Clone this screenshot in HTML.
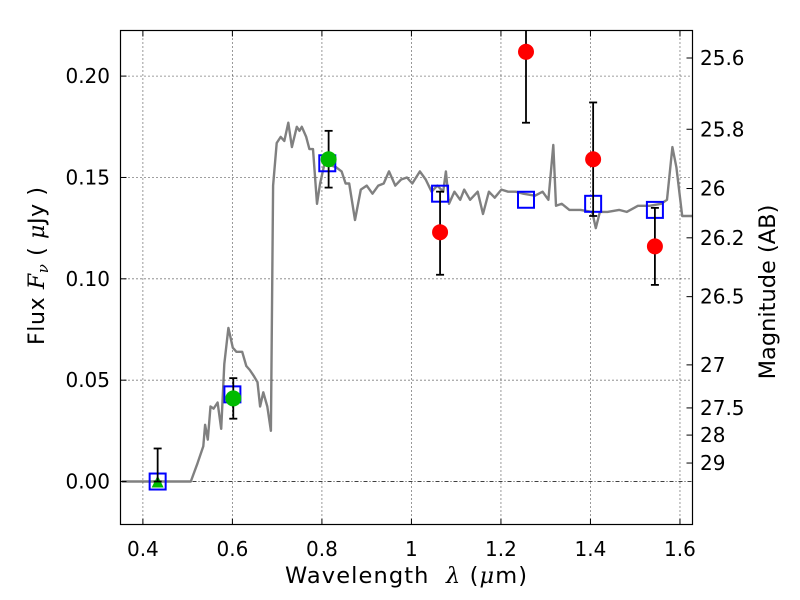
<!DOCTYPE html>
<html><head><meta charset="utf-8"><title>SED chart</title>
<style>html,body{margin:0;padding:0;background:#fff}svg{display:block;font-family:"DejaVu Sans","Liberation Sans",sans-serif}text{white-space:pre}.m{font-family:"DejaVu Serif","Liberation Serif",serif;font-style:italic}</style>
</head><body>
<svg id="chart" width="800" height="600" viewBox="0 0 800 600" xmlns="http://www.w3.org/2000/svg" xml:space="preserve">
<rect width="800" height="600" fill="#fff"/>
<g id="grid"></g>
<g id="plot"></g>
<g id="axes"></g>
<text x="285" y="583" font-size="22.5" textLength="242" lengthAdjust="spacing">Wavelength  <tspan class="m">λ</tspan> (<tspan class="m">μ</tspan>m)</text>
<text transform="translate(44,345) rotate(-90)" font-size="22" textLength="158" lengthAdjust="spacing">Flux <tspan class="m">F</tspan><tspan class="m" font-size="15" dy="4">ν</tspan><tspan dy="-4"> ( </tspan><tspan class="m">μ</tspan>Jy )</text>
<text transform="translate(775,292) rotate(-90)" font-size="22.5" text-anchor="middle">Magnitude (AB)</text>
</svg>
<script>
const xTicks = [0.4, 0.6, 0.8, 1.0, 1.2, 1.4, 1.6];
const xTickLabels = ["0.4", "0.6", "0.8", "1", "1.2", "1.4", "1.6"];
const yTicks = [0.0, 0.05, 0.10, 0.15, 0.20];
const yTickLabels = ["0.00", "0.05", "0.10", "0.15", "0.20"];
const magTicks = [25.6, 25.8, 26, 26.2, 26.5, 27, 27.5, 28, 29];
const magTickLabels = ["25.6", "25.8", "26", "26.2", "26.5", "27", "27.5", "28", "29"];
const specWave = [0.353,0.507,0.522,0.535,0.539,0.545,0.551,0.558,0.567,0.575,0.582,0.591,0.601,0.609,0.622,0.631,0.639,0.648,0.656,0.662,0.669,0.678,0.686,0.691,0.699,0.708,0.716,0.725,0.733,0.744,0.750,0.755,0.765,0.772,0.780,0.789,0.796,0.806,0.832,0.844,0.853,0.861,0.874,0.887,0.900,0.913,0.926,0.938,0.950,0.964,0.977,0.990,1.002,1.019,1.032,1.045,1.058,1.071,1.077,1.084,1.096,1.109,1.118,1.131,1.148,1.160,1.173,1.186,1.201,1.216,1.233,1.250,1.276,1.293,1.306,1.317,1.323,1.336,1.353,1.378,1.404,1.412,1.421,1.438,1.464,1.481,1.506,1.532,1.558,1.571,1.583,1.592,1.605,1.628];
const specFlux = [0,0,0.009,0.0174,0.028,0.0207,0.037,0.036,0.039,0.026,0.058,0.0758,0.066,0.064,0.064,0.057,0.055,0.052,0.049,0.037,0.044,0.037,0.025,0.146,0.167,0.170,0.168,0.177,0.165,0.175,0.173,0.175,0.170,0.164,0.164,0.137,0.147,0.157,0.155,0.153,0.147,0.147,0.129,0.144,0.146,0.142,0.146,0.147,0.153,0.146,0.149,0.150,0.147,0.153,0.149,0.143,0.146,0.143,0.153,0.137,0.143,0.139,0.144,0.139,0.143,0.132,0.143,0.140,0.144,0.143,0.143,0.142,0.141,0.143,0.139,0.166,0.136,0.137,0.134,0.134,0.133,0.125,0.133,0.133,0.134,0.133,0.136,0.136,0.137,0.139,0.165,0.155,0.131,0.131];
const modelWave = [0.433, 0.600, 0.812, 1.064, 1.256, 1.406, 1.544];
const modelFlux = [0.0, 0.043, 0.157, 0.142, 0.139, 0.137, 0.134];
const greenWave = [0.602, 0.815];
const greenFlux = [0.041, 0.159];
const greenErrLo = [0.031, 0.145];
const greenErrHi = [0.051, 0.173];
const limitWave = [0.433];
const limitFlux = [0.0];
const limitErrHi = [0.0163];
const redWave = [1.064, 1.256, 1.406, 1.544];
const redFlux = [0.123, 0.212, 0.159, 0.116];
const redErrLo = [0.102, 0.177, 0.131, 0.097];
const redErrHi = [0.143, 0.250, 0.187, 0.135];

const L = 120.5, R = 692.5, T = 30.5, B = 524.5;
const xMin = 0.35, xMax = 1.628, yMin = -0.0212, yMax = 0.2225;
const X = v => L + (v - xMin) / (xMax - xMin) * (R - L);
const Y = v => B - (v - yMin) / (yMax - yMin) * (B - T);
const magToFlux = m => Math.pow(10, (23.9 - m) / 2.5);
const NS = "http://www.w3.org/2000/svg";
function mk(tag, parent, attrs) {
  const e = document.createElementNS(NS, tag);
  for (const k in attrs) e.setAttribute(k, attrs[k]);
  parent.appendChild(e);
  return e;
}
const grid = document.getElementById('grid'), plot = document.getElementById('plot'), axes = document.getElementById('axes');

xTicks.forEach((t, i) => {
  const g = mk('line', grid, {x1: X(t), x2: X(t), y1: T, y2: B, stroke: '#000', 'stroke-width': 0.8, 'stroke-dasharray': '1,3'});
  
  
  const a = mk('line', axes, {x1: X(t), x2: X(t), y1: B, y2: B - 6, stroke: '#000', 'stroke-width': 1});
  
  
  const b = mk('line', axes, {x1: X(t), x2: X(t), y1: T, y2: T + 6, stroke: '#000', 'stroke-width': 1});
  
  
  const lb = mk('text', axes, {x: X(t), y: 556, 'font-size': 20, 'text-anchor': 'middle'});
  lb.textContent = xTickLabels[i];
  
  
});
yTicks.forEach((t, i) => {
  const g = mk('line', grid, {x1: L, x2: R, y1: Y(t), y2: Y(t), stroke: '#000', 'stroke-width': 0.8, 'stroke-dasharray': t === 0 ? '4,2,1,2' : '1,3'});
  
  
  const a = mk('line', axes, {x1: L, x2: L + 6, y1: Y(t), y2: Y(t), stroke: '#000', 'stroke-width': 1});
  
  
  const lb = mk('text', axes, {x: 110, y: Y(t) + 7, 'font-size': 20, 'text-anchor': 'end'});
  lb.textContent = yTickLabels[i];
  
  
});
magTicks.forEach((m, i) => {
  const yy = Y(magToFlux(m));
  const a = mk('line', axes, {x1: R, x2: R - 6, y1: yy, y2: yy, stroke: '#000', 'stroke-width': 1});
  
  
  const lb = mk('text', axes, {x: 700, y: yy + 7, 'font-size': 20});
  lb.textContent = magTickLabels[i];
  
  
});

let d = specWave.map((w, i) => (i ? 'L' : 'M') + X(w).toFixed(1) + ',' + Y(specFlux[i]).toFixed(1)).join(' ');
const sp = mk('path', plot, {d: d, fill: 'none', stroke: '#808080', 'stroke-width': 2.4, 'stroke-linejoin': 'round'});



function errbar(w, lo, hi, name) {
  const x = X(w), y1 = Math.max(Y(hi), T), y2 = Math.min(Y(lo), B);
  const g = mk('g', plot, {stroke: '#000', 'stroke-width': 1.8});
  
  
  mk('line', g, {x1: x, x2: x, y1: y1, y2: y2});
  if (Y(hi) >= T) mk('line', g, {x1: x - 4, x2: x + 4, y1: y1, y2: y1});
  mk('line', g, {x1: x - 4, x2: x + 4, y1: y2, y2: y2});
}
modelWave.forEach((w, i) => {
  const s = mk('rect', plot, {x: X(w) - 8, y: Y(modelFlux[i]) - 8, width: 16, height: 16, fill: 'none', stroke: '#0000ff', 'stroke-width': 2});
  
  
});
limitWave.forEach((w, i) => {
  const x = X(w), y = Y(limitFlux[i]);
  const tr = mk('polygon', plot, {points: `${x-6},${y+6} ${x+6},${y+6} ${x},${y-6}`, fill: '#00bb00'});
  
  
  errbar(w, limitFlux[i], limitErrHi[i], 'upper-limit-error-bar');
});
greenWave.forEach((w, i) => {
  errbar(w, greenErrLo[i], greenErrHi[i], 'green-error-bar');
  const c = mk('circle', plot, {cx: X(w), cy: Y(greenFlux[i]), r: 8, fill: '#00bb00'});
  
  
});
redWave.forEach((w, i) => {
  errbar(w, redErrLo[i], redErrHi[i], 'red-error-bar');
  const c = mk('circle', plot, {cx: X(w), cy: Y(redFlux[i]), r: 8, fill: '#ff0000'});
  
  
});
const fr = mk('rect', axes, {x: L, y: T, width: R - L, height: B - T, fill: 'none', stroke: '#000', 'stroke-width': 1.2});


</script>
</body></html>
